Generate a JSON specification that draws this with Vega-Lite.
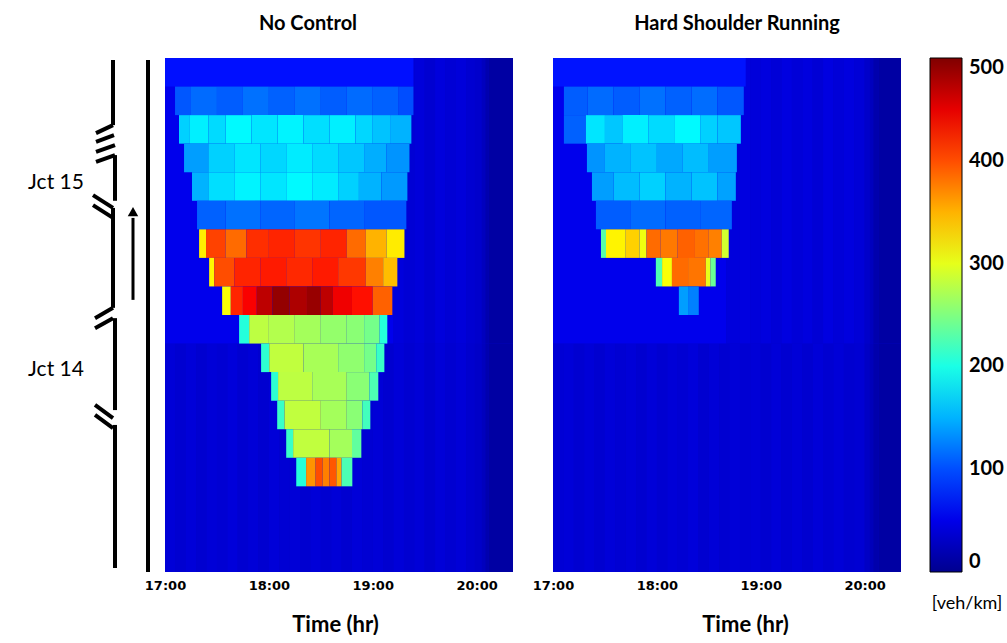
{
  "$schema": "https://vega.github.io/schema/vega-lite/v6.json",
  "background": "white",
  "padding": {"left": 0, "top": 14, "right": 0, "bottom": 0},
  "config": {"view": {"stroke": null}, "font": "Lato"},
  "datasets": {
    "heat": [
      {"p":"N","a":0,"b":6,"lo":0,"hi":8,"v":40},{"p":"N","a":6,"b":12,"lo":0,"hi":8,"v":37},{"p":"N","a":12,"b":18,"lo":0,"hi":8,"v":41},{"p":"N","a":18,"b":24,"lo":0,"hi":8,"v":36},{"p":"N","a":24,"b":30,"lo":0,"hi":8,"v":40},{"p":"N","a":30,"b":36,"lo":0,"hi":8,"v":38},{"p":"N","a":36,"b":42,"lo":0,"hi":8,"v":42},{"p":"N","a":42,"b":48,"lo":0,"hi":8,"v":37},{"p":"N","a":48,"b":54,"lo":0,"hi":8,"v":40},{"p":"N","a":54,"b":60,"lo":0,"hi":8,"v":36},{"p":"N","a":60,"b":66,"lo":0,"hi":8,"v":41},{"p":"N","a":66,"b":72,"lo":0,"hi":8,"v":38},{"p":"N","a":72,"b":78,"lo":0,"hi":8,"v":40},{"p":"N","a":78,"b":84,"lo":0,"hi":8,"v":36},{"p":"N","a":84,"b":90,"lo":0,"hi":8,"v":41},{"p":"N","a":90,"b":96,"lo":0,"hi":8,"v":37},{"p":"N","a":96,"b":102,"lo":0,"hi":8,"v":40},{"p":"N","a":102,"b":108,"lo":0,"hi":8,"v":36},{"p":"N","a":108,"b":114,"lo":0,"hi":8,"v":41},{"p":"N","a":114,"b":120,"lo":0,"hi":8,"v":38},{"p":"N","a":120,"b":126,"lo":0,"hi":8,"v":40},{"p":"N","a":126,"b":132,"lo":0,"hi":8,"v":36},{"p":"N","a":132,"b":138,"lo":0,"hi":8,"v":41},{"p":"N","a":138,"b":144,"lo":0,"hi":8,"v":37},{"p":"N","a":144,"b":150,"lo":0,"hi":8,"v":40},{"p":"N","a":150,"b":156,"lo":0,"hi":8,"v":35},{"p":"N","a":156,"b":162,"lo":0,"hi":8,"v":41},{"p":"N","a":162,"b":168,"lo":0,"hi":8,"v":37},{"p":"N","a":168,"b":174,"lo":0,"hi":8,"v":40},{"p":"N","a":174,"b":179,"lo":0,"hi":8,"v":35},{"p":"N","a":179,"b":183,"lo":0,"hi":8,"v":32},{"p":"N","a":183,"b":185,"lo":0,"hi":8,"v":26},{"p":"N","a":185,"b":187,"lo":0,"hi":8,"v":18},{"p":"N","a":187,"b":201,"lo":0,"hi":8,"v":11},
      {"p":"N","a":0,"b":132,"lo":8,"hi":18,"v":52},{"p":"N","a":132,"b":138,"lo":8,"hi":18,"v":43},{"p":"N","a":138,"b":144,"lo":8,"hi":18,"v":39},{"p":"N","a":144,"b":150,"lo":8,"hi":18,"v":42},{"p":"N","a":150,"b":156,"lo":8,"hi":18,"v":37},{"p":"N","a":156,"b":162,"lo":8,"hi":18,"v":43},{"p":"N","a":162,"b":168,"lo":8,"hi":18,"v":39},{"p":"N","a":168,"b":174,"lo":8,"hi":18,"v":42},{"p":"N","a":174,"b":179,"lo":8,"hi":18,"v":37},{"p":"N","a":179,"b":183,"lo":8,"hi":18,"v":34},{"p":"N","a":183,"b":185,"lo":8,"hi":18,"v":27},{"p":"N","a":185,"b":187,"lo":8,"hi":18,"v":18},{"p":"N","a":187,"b":201,"lo":8,"hi":18,"v":11},
      {"p":"H","a":0,"b":6,"lo":0,"hi":8,"v":39},{"p":"H","a":6,"b":12,"lo":0,"hi":8,"v":41},{"p":"H","a":12,"b":18,"lo":0,"hi":8,"v":37},{"p":"H","a":18,"b":24,"lo":0,"hi":8,"v":40},{"p":"H","a":24,"b":30,"lo":0,"hi":8,"v":36},{"p":"H","a":30,"b":36,"lo":0,"hi":8,"v":41},{"p":"H","a":36,"b":42,"lo":0,"hi":8,"v":38},{"p":"H","a":42,"b":48,"lo":0,"hi":8,"v":40},{"p":"H","a":48,"b":54,"lo":0,"hi":8,"v":36},{"p":"H","a":54,"b":60,"lo":0,"hi":8,"v":41},{"p":"H","a":60,"b":66,"lo":0,"hi":8,"v":37},{"p":"H","a":66,"b":72,"lo":0,"hi":8,"v":40},{"p":"H","a":72,"b":78,"lo":0,"hi":8,"v":38},{"p":"H","a":78,"b":84,"lo":0,"hi":8,"v":42},{"p":"H","a":84,"b":90,"lo":0,"hi":8,"v":36},{"p":"H","a":90,"b":96,"lo":0,"hi":8,"v":40},{"p":"H","a":96,"b":102,"lo":0,"hi":8,"v":37},{"p":"H","a":102,"b":108,"lo":0,"hi":8,"v":41},{"p":"H","a":108,"b":114,"lo":0,"hi":8,"v":38},{"p":"H","a":114,"b":120,"lo":0,"hi":8,"v":40},{"p":"H","a":120,"b":126,"lo":0,"hi":8,"v":36},{"p":"H","a":126,"b":132,"lo":0,"hi":8,"v":41},{"p":"H","a":132,"b":138,"lo":0,"hi":8,"v":37},{"p":"H","a":138,"b":144,"lo":0,"hi":8,"v":40},{"p":"H","a":144,"b":150,"lo":0,"hi":8,"v":36},{"p":"H","a":150,"b":156,"lo":0,"hi":8,"v":41},{"p":"H","a":156,"b":162,"lo":0,"hi":8,"v":37},{"p":"H","a":162,"b":168,"lo":0,"hi":8,"v":40},{"p":"H","a":168,"b":174,"lo":0,"hi":8,"v":36},{"p":"H","a":174,"b":180,"lo":0,"hi":8,"v":38},{"p":"H","a":180,"b":183,"lo":0,"hi":8,"v":30},{"p":"H","a":183,"b":185,"lo":0,"hi":8,"v":24},{"p":"H","a":185,"b":188,"lo":0,"hi":8,"v":16},{"p":"H","a":188,"b":201,"lo":0,"hi":8,"v":11},
      {"p":"H","a":0,"b":100,"lo":8,"hi":18,"v":52},{"p":"H","a":100,"b":108,"lo":8,"hi":18,"v":43},{"p":"H","a":108,"b":114,"lo":8,"hi":18,"v":45},{"p":"H","a":114,"b":120,"lo":8,"hi":18,"v":42},{"p":"H","a":120,"b":126,"lo":8,"hi":18,"v":44},{"p":"H","a":126,"b":132,"lo":8,"hi":18,"v":40},{"p":"H","a":132,"b":138,"lo":8,"hi":18,"v":45},{"p":"H","a":138,"b":144,"lo":8,"hi":18,"v":41},{"p":"H","a":144,"b":150,"lo":8,"hi":18,"v":44},{"p":"H","a":150,"b":156,"lo":8,"hi":18,"v":39},{"p":"H","a":156,"b":162,"lo":8,"hi":18,"v":45},{"p":"H","a":162,"b":168,"lo":8,"hi":18,"v":41},{"p":"H","a":168,"b":174,"lo":8,"hi":18,"v":44},{"p":"H","a":174,"b":180,"lo":8,"hi":18,"v":40},{"p":"H","a":180,"b":183,"lo":8,"hi":18,"v":33},{"p":"H","a":183,"b":185,"lo":8,"hi":18,"v":26},{"p":"H","a":185,"b":188,"lo":8,"hi":18,"v":17},{"p":"H","a":188,"b":201,"lo":8,"hi":18,"v":11},

      {"p":"N","a":0,"b":143.5,"lo":17,"hi":18,"v":70},
      {"p":"N","a":5.8,"b":15,"lo":16,"hi":17,"v":105},{"p":"N","a":15,"b":30,"lo":16,"hi":17,"v":115},{"p":"N","a":30,"b":45,"lo":16,"hi":17,"v":108},{"p":"N","a":45,"b":60,"lo":16,"hi":17,"v":118},{"p":"N","a":60,"b":75,"lo":16,"hi":17,"v":110},{"p":"N","a":75,"b":90,"lo":16,"hi":17,"v":118},{"p":"N","a":90,"b":105,"lo":16,"hi":17,"v":108},{"p":"N","a":105,"b":120,"lo":16,"hi":17,"v":115},{"p":"N","a":120,"b":135,"lo":16,"hi":17,"v":110},{"p":"N","a":135,"b":143.5,"lo":16,"hi":17,"v":100},
      {"p":"N","a":8.1,"b":14,"lo":15,"hi":16,"v":165},{"p":"N","a":14,"b":25,"lo":15,"hi":16,"v":180},{"p":"N","a":25,"b":35,"lo":15,"hi":16,"v":170},{"p":"N","a":35,"b":50,"lo":15,"hi":16,"v":185},{"p":"N","a":50,"b":65,"lo":15,"hi":16,"v":175},{"p":"N","a":65,"b":80,"lo":15,"hi":16,"v":182},{"p":"N","a":80,"b":95,"lo":15,"hi":16,"v":172},{"p":"N","a":95,"b":110,"lo":15,"hi":16,"v":180},{"p":"N","a":110,"b":120,"lo":15,"hi":16,"v":168},{"p":"N","a":120,"b":130,"lo":15,"hi":16,"v":158},{"p":"N","a":130,"b":142.3,"lo":15,"hi":16,"v":150},
      {"p":"N","a":11,"b":25,"lo":14,"hi":15,"v":140},{"p":"N","a":25,"b":40,"lo":14,"hi":15,"v":165},{"p":"N","a":40,"b":55,"lo":14,"hi":15,"v":175},{"p":"N","a":55,"b":70,"lo":14,"hi":15,"v":168},{"p":"N","a":70,"b":85,"lo":14,"hi":15,"v":178},{"p":"N","a":85,"b":100,"lo":14,"hi":15,"v":170},{"p":"N","a":100,"b":115,"lo":14,"hi":15,"v":160},{"p":"N","a":115,"b":128,"lo":14,"hi":15,"v":148},{"p":"N","a":128,"b":141.2,"lo":14,"hi":15,"v":135},
      {"p":"N","a":15.6,"b":25,"lo":13,"hi":14,"v":150},{"p":"N","a":25,"b":40,"lo":13,"hi":14,"v":172},{"p":"N","a":40,"b":55,"lo":13,"hi":14,"v":182},{"p":"N","a":55,"b":70,"lo":13,"hi":14,"v":175},{"p":"N","a":70,"b":85,"lo":13,"hi":14,"v":185},{"p":"N","a":85,"b":100,"lo":13,"hi":14,"v":178},{"p":"N","a":100,"b":112,"lo":13,"hi":14,"v":165},{"p":"N","a":112,"b":125,"lo":13,"hi":14,"v":150},{"p":"N","a":125,"b":140,"lo":13,"hi":14,"v":138},
      {"p":"N","a":18.5,"b":35,"lo":12,"hi":13,"v":110},{"p":"N","a":35,"b":55,"lo":12,"hi":13,"v":118},{"p":"N","a":55,"b":75,"lo":12,"hi":13,"v":112},{"p":"N","a":75,"b":95,"lo":12,"hi":13,"v":120},{"p":"N","a":95,"b":115,"lo":12,"hi":13,"v":112},{"p":"N","a":115,"b":139.4,"lo":12,"hi":13,"v":105},
      {"p":"N","a":19.7,"b":23.7,"lo":11,"hi":12,"v":320},{"p":"N","a":23.7,"b":35,"lo":11,"hi":12,"v":405},{"p":"N","a":35,"b":47,"lo":11,"hi":12,"v":385},{"p":"N","a":47,"b":60,"lo":11,"hi":12,"v":415},{"p":"N","a":60,"b":75,"lo":11,"hi":12,"v":420},{"p":"N","a":75,"b":90,"lo":11,"hi":12,"v":412},{"p":"N","a":90,"b":105,"lo":11,"hi":12,"v":420},{"p":"N","a":105,"b":116,"lo":11,"hi":12,"v":385},{"p":"N","a":116,"b":128,"lo":11,"hi":12,"v":350},{"p":"N","a":128,"b":138.3,"lo":11,"hi":12,"v":322},
      {"p":"N","a":25.5,"b":28.4,"lo":10,"hi":11,"v":315},{"p":"N","a":28.4,"b":40,"lo":10,"hi":11,"v":400},{"p":"N","a":40,"b":55,"lo":10,"hi":11,"v":420},{"p":"N","a":55,"b":70,"lo":10,"hi":11,"v":425},{"p":"N","a":70,"b":85,"lo":10,"hi":11,"v":418},{"p":"N","a":85,"b":100,"lo":10,"hi":11,"v":425},{"p":"N","a":100,"b":116,"lo":10,"hi":11,"v":410},{"p":"N","a":116,"b":126,"lo":10,"hi":11,"v":375},{"p":"N","a":126,"b":134.2,"lo":10,"hi":11,"v":345},
      {"p":"N","a":33,"b":38,"lo":9,"hi":10,"v":310},{"p":"N","a":38,"b":45,"lo":9,"hi":10,"v":420},{"p":"N","a":45,"b":53,"lo":9,"hi":10,"v":440},{"p":"N","a":53,"b":62,"lo":9,"hi":10,"v":470},{"p":"N","a":62,"b":72,"lo":9,"hi":10,"v":490},{"p":"N","a":72,"b":82,"lo":9,"hi":10,"v":478},{"p":"N","a":82,"b":90,"lo":9,"hi":10,"v":488},{"p":"N","a":90,"b":97,"lo":9,"hi":10,"v":470},{"p":"N","a":97,"b":108,"lo":9,"hi":10,"v":445},{"p":"N","a":108,"b":120,"lo":9,"hi":10,"v":430},{"p":"N","a":120,"b":131.3,"lo":9,"hi":10,"v":390},
      {"p":"N","a":42.8,"b":48.6,"lo":8,"hi":9,"v":205},{"p":"N","a":48.6,"b":60,"lo":8,"hi":9,"v":280},{"p":"N","a":60,"b":75,"lo":8,"hi":9,"v":275},{"p":"N","a":75,"b":90,"lo":8,"hi":9,"v":268},{"p":"N","a":90,"b":105,"lo":8,"hi":9,"v":260},{"p":"N","a":105,"b":115,"lo":8,"hi":9,"v":255},{"p":"N","a":115,"b":124,"lo":8,"hi":9,"v":245},{"p":"N","a":124,"b":128.4,"lo":8,"hi":9,"v":205},
      {"p":"N","a":55.5,"b":60.2,"lo":7,"hi":8,"v":210},{"p":"N","a":60.2,"b":80,"lo":7,"hi":8,"v":282},{"p":"N","a":80,"b":100,"lo":7,"hi":8,"v":270},{"p":"N","a":100,"b":115,"lo":7,"hi":8,"v":258},{"p":"N","a":115,"b":122,"lo":7,"hi":8,"v":245},{"p":"N","a":122,"b":126.7,"lo":7,"hi":8,"v":215},
      {"p":"N","a":61.3,"b":65.3,"lo":6,"hi":7,"v":210},{"p":"N","a":65.3,"b":85,"lo":6,"hi":7,"v":280},{"p":"N","a":85,"b":105,"lo":6,"hi":7,"v":270},{"p":"N","a":105,"b":118,"lo":6,"hi":7,"v":255},{"p":"N","a":118,"b":123.2,"lo":6,"hi":7,"v":225},
      {"p":"N","a":64.8,"b":69,"lo":5,"hi":6,"v":215},{"p":"N","a":69,"b":90,"lo":5,"hi":6,"v":282},{"p":"N","a":90,"b":105,"lo":5,"hi":6,"v":268},{"p":"N","a":105,"b":114,"lo":5,"hi":6,"v":255},{"p":"N","a":114,"b":118.6,"lo":5,"hi":6,"v":220},
      {"p":"N","a":70,"b":74,"lo":4,"hi":5,"v":215},{"p":"N","a":74,"b":95,"lo":4,"hi":5,"v":282},{"p":"N","a":95,"b":108,"lo":4,"hi":5,"v":268},{"p":"N","a":108,"b":113.4,"lo":4,"hi":5,"v":235},
      {"p":"N","a":75.8,"b":81.5,"lo":3,"hi":4,"v":205},{"p":"N","a":81.5,"b":87,"lo":3,"hi":4,"v":365},{"p":"N","a":87,"b":91,"lo":3,"hi":4,"v":400},{"p":"N","a":91,"b":95,"lo":3,"hi":4,"v":375},{"p":"N","a":95,"b":99,"lo":3,"hi":4,"v":395},{"p":"N","a":99,"b":102,"lo":3,"hi":4,"v":355},{"p":"N","a":102,"b":108.2,"lo":3,"hi":4,"v":225},

      {"p":"H","a":0,"b":111.3,"lo":17,"hi":18,"v":72},
      {"p":"H","a":6.3,"b":20,"lo":16,"hi":17,"v":108},{"p":"H","a":20,"b":35,"lo":16,"hi":17,"v":115},{"p":"H","a":35,"b":50,"lo":16,"hi":17,"v":108},{"p":"H","a":50,"b":65,"lo":16,"hi":17,"v":118},{"p":"H","a":65,"b":80,"lo":16,"hi":17,"v":110},{"p":"H","a":80,"b":95,"lo":16,"hi":17,"v":116},{"p":"H","a":95,"b":110.2,"lo":16,"hi":17,"v":105},
      {"p":"H","a":6.3,"b":19,"lo":15,"hi":16,"v":110},{"p":"H","a":19,"b":30,"lo":15,"hi":16,"v":175},{"p":"H","a":30,"b":40,"lo":15,"hi":16,"v":160},{"p":"H","a":40,"b":55,"lo":15,"hi":16,"v":180},{"p":"H","a":55,"b":70,"lo":15,"hi":16,"v":170},{"p":"H","a":70,"b":85,"lo":15,"hi":16,"v":185},{"p":"H","a":85,"b":95,"lo":15,"hi":16,"v":165},{"p":"H","a":95,"b":108.5,"lo":15,"hi":16,"v":160},
      {"p":"H","a":19.6,"b":30,"lo":14,"hi":15,"v":135},{"p":"H","a":30,"b":45,"lo":14,"hi":15,"v":150},{"p":"H","a":45,"b":60,"lo":14,"hi":15,"v":158},{"p":"H","a":60,"b":75,"lo":14,"hi":15,"v":145},{"p":"H","a":75,"b":90,"lo":14,"hi":15,"v":155},{"p":"H","a":90,"b":106.2,"lo":14,"hi":15,"v":140},
      {"p":"H","a":22.5,"b":35,"lo":13,"hi":14,"v":140},{"p":"H","a":35,"b":50,"lo":13,"hi":14,"v":155},{"p":"H","a":50,"b":65,"lo":13,"hi":14,"v":165},{"p":"H","a":65,"b":80,"lo":13,"hi":14,"v":150},{"p":"H","a":80,"b":95,"lo":13,"hi":14,"v":158},{"p":"H","a":95,"b":105.6,"lo":13,"hi":14,"v":142},
      {"p":"H","a":24.8,"b":45,"lo":12,"hi":13,"v":108},{"p":"H","a":45,"b":65,"lo":12,"hi":13,"v":115},{"p":"H","a":65,"b":85,"lo":12,"hi":13,"v":110},{"p":"H","a":85,"b":103.3,"lo":12,"hi":13,"v":112},
      {"p":"H","a":27.7,"b":30.6,"lo":11,"hi":12,"v":230},{"p":"H","a":30.6,"b":42,"lo":11,"hi":12,"v":318},{"p":"H","a":42,"b":50,"lo":11,"hi":12,"v":335},{"p":"H","a":50,"b":54,"lo":11,"hi":12,"v":305},{"p":"H","a":54,"b":62,"lo":11,"hi":12,"v":385},{"p":"H","a":62,"b":72,"lo":11,"hi":12,"v":378},{"p":"H","a":72,"b":82,"lo":11,"hi":12,"v":390},{"p":"H","a":82,"b":90,"lo":11,"hi":12,"v":382},{"p":"H","a":90,"b":97.5,"lo":11,"hi":12,"v":375},{"p":"H","a":97.5,"b":101.5,"lo":11,"hi":12,"v":290},
      {"p":"H","a":59.4,"b":63,"lo":10,"hi":11,"v":225},{"p":"H","a":63,"b":68.7,"lo":10,"hi":11,"v":310},{"p":"H","a":68.7,"b":78,"lo":10,"hi":11,"v":385},{"p":"H","a":78,"b":88.3,"lo":10,"hi":11,"v":380},{"p":"H","a":88.3,"b":91,"lo":10,"hi":11,"v":300},{"p":"H","a":91,"b":94,"lo":10,"hi":11,"v":240},
      {"p":"H","a":72.7,"b":78,"lo":9,"hi":10,"v":140},{"p":"H","a":78,"b":84.2,"lo":9,"hi":10,"v":125}
    ],
    "schem": [
      {"k":"road","x":113,"y":17.93,"x2":113,"y2":15.65},
      {"k":"road","x":96,"y":15.37,"x2":113,"y2":15.65},
      {"k":"road","x":96,"y":15.06,"x2":114,"y2":15.30},
      {"k":"road","x":96,"y":14.71,"x2":115,"y2":14.95},
      {"k":"road","x":96,"y":14.36,"x2":115,"y2":14.60},
      {"k":"road","x":115,"y":14.60,"x2":115,"y2":13.0},
      {"k":"road","x":93,"y":13.20,"x2":113,"y2":12.75},
      {"k":"road","x":93,"y":12.85,"x2":113,"y2":12.40},
      {"k":"road","x":113,"y":12.75,"x2":113,"y2":9.25},
      {"k":"road","x":95,"y":8.89,"x2":113,"y2":9.25},
      {"k":"road","x":95,"y":8.54,"x2":113,"y2":8.89},
      {"k":"road","x":115,"y":8.89,"x2":115,"y2":5.67},
      {"k":"road","x":95,"y":5.85,"x2":113,"y2":5.39},
      {"k":"road","x":95,"y":5.50,"x2":113,"y2":5.04},
      {"k":"road","x":115,"y":5.15,"x2":115,"y2":0.14},
      {"k":"road","x":148,"y":17.93,"x2":148,"y2":0.0},
      {"k":"arrow","x":133,"y":9.53,"x2":133,"y2":12.4},
      {"k":"head","x":133,"y":12.62,"x2":133,"y2":12.62},
      {"k":"label","x":56,"y":13.62,"x2":56,"y2":13.62,"t":"Jct 15"},
      {"k":"label","x":56,"y":7.07,"x2":56,"y2":7.07,"t":"Jct 14"}
    ]
  },
  "spacing": 10,
  "bounds": "flush",
  "resolve": {"scale": {"color": "shared"}},
  "hconcat": [
    {
      "width": 155,
      "height": 514,
      "data": {"name": "schem"},
      "layer": [
        {
          "transform": [{"filter": "datum.k == 'road'"}],
          "mark": {"type": "rule", "strokeWidth": 4, "color": "black", "strokeCap": "butt"},
          "encoding": {
            "x": {"field": "x", "type": "quantitative", "scale": {"domain": [0, 155], "nice": false, "zero": false}, "axis": null},
            "y": {"field": "y", "type": "quantitative", "scale": {"domain": [0, 18], "nice": false, "zero": false}, "axis": null},
            "x2": {"field": "x2"},
            "y2": {"field": "y2"}
          }
        },
        {
          "transform": [{"filter": "datum.k == 'arrow'"}],
          "mark": {"type": "rule", "strokeWidth": 3, "color": "black"},
          "encoding": {
            "x": {"field": "x", "type": "quantitative"},
            "y": {"field": "y", "type": "quantitative"},
            "x2": {"field": "x2"},
            "y2": {"field": "y2"}
          }
        },
        {
          "transform": [{"filter": "datum.k == 'head'"}],
          "mark": {"type": "point", "shape": "triangle-up", "filled": true, "color": "black", "size": 110, "opacity": 1},
          "encoding": {
            "x": {"field": "x", "type": "quantitative"},
            "y": {"field": "y", "type": "quantitative"}
          }
        },
        {
          "transform": [{"filter": "datum.k == 'label'"}],
          "mark": {"type": "text", "font": "Lato", "fontSize": 21, "color": "black", "align": "center", "baseline": "middle"},
          "encoding": {
            "x": {"field": "x", "type": "quantitative"},
            "y": {"field": "y", "type": "quantitative"},
            "text": {"field": "t"}
          }
        }
      ]
    },
    {
      "spacing": 40,
      "bounds": "flush",
      "hconcat": [
        {
          "width": 348,
          "height": 514,
          "view": {"fill": "#0000c8", "stroke": null},
          "title": {"text": "No Control", "font": "Lato", "fontSize": 20, "fontWeight": "bold", "color": "black", "offset": 24, "dx": -31},
          "data": {"name": "heat"},
          "transform": [{"filter": "datum.p == 'N'"}],
          "mark": {"type": "rect"},
          "encoding": {
            "x": {"field": "a", "type": "quantitative", "scale": {"domain": [0, 201], "nice": false, "zero": false},
              "axis": {"values": [0, 60, 120, 180], "labelExpr": "(17 + datum.value/60) + ':00'", "ticks": false, "domain": false, "grid": false, "labelFlush": false, "labelFont": "DejaVu Sans", "labelFontWeight": "bold", "labelFontSize": 13, "labelColor": "black", "labelPadding": 7, "title": "Time (hr)", "titleFont": "Lato", "titleFontSize": 22, "titleFontWeight": "bold", "titleColor": "black", "titlePadding": 22, "titleX": 170}},
            "x2": {"field": "b"},
            "y": {"field": "lo", "type": "quantitative", "scale": {"domain": [0, 18], "nice": false, "zero": false}, "axis": null},
            "y2": {"field": "hi"},
            "color": {"field": "v", "type": "quantitative",
              "scale": {"domain": [0, 62.5, 187.5, 312.5, 437.5, 500], "range": ["#00008f", "#0000ff", "#00ffff", "#ffff00", "#ff0000", "#800000"], "interpolate": "rgb"},
              "legend": {"type": "gradient", "orient": "none", "legendX": 930, "legendY": 0, "direction": "vertical", "gradientLength": 514, "gradientThickness": 32, "values": [0, 100, 200, 300, 400, 500], "labelFont": "Lato", "labelFontSize": 20, "labelFontWeight": "bold", "labelColor": "black", "labelOffset": 7, "title": "[veh/km]", "titleOrient": "bottom", "titleAnchor": "middle", "titleFont": "Lato", "titleFontSize": 18, "titleFontWeight": "normal", "titleColor": "black", "titlePadding": 22, "gradientStrokeColor": "black", "gradientStrokeWidth": 1}}
          }
        },
        {
          "width": 348,
          "height": 514,
          "view": {"fill": "#0000c8", "stroke": null},
          "title": {"text": "Hard Shoulder Running", "font": "Lato", "fontSize": 20, "fontWeight": "bold", "color": "black", "offset": 24, "dx": 10},
          "data": {"name": "heat"},
          "transform": [{"filter": "datum.p == 'H'"}],
          "mark": {"type": "rect"},
          "encoding": {
            "x": {"field": "a", "type": "quantitative", "scale": {"domain": [0, 201], "nice": false, "zero": false},
              "axis": {"values": [0, 60, 120, 180], "labelExpr": "(17 + datum.value/60) + ':00'", "ticks": false, "domain": false, "grid": false, "labelFlush": false, "labelFont": "DejaVu Sans", "labelFontWeight": "bold", "labelFontSize": 13, "labelColor": "black", "labelPadding": 7, "title": "Time (hr)", "titleFont": "Lato", "titleFontSize": 22, "titleFontWeight": "bold", "titleColor": "black", "titlePadding": 22, "titleX": 192}},
            "x2": {"field": "b"},
            "y": {"field": "lo", "type": "quantitative", "scale": {"domain": [0, 18], "nice": false, "zero": false}, "axis": null},
            "y2": {"field": "hi"},
            "color": {"field": "v", "type": "quantitative",
              "scale": {"domain": [0, 62.5, 187.5, 312.5, 437.5, 500], "range": ["#00008f", "#0000ff", "#00ffff", "#ffff00", "#ff0000", "#800000"], "interpolate": "rgb"}}
          }
        }
      ]
    }
  ]
}
